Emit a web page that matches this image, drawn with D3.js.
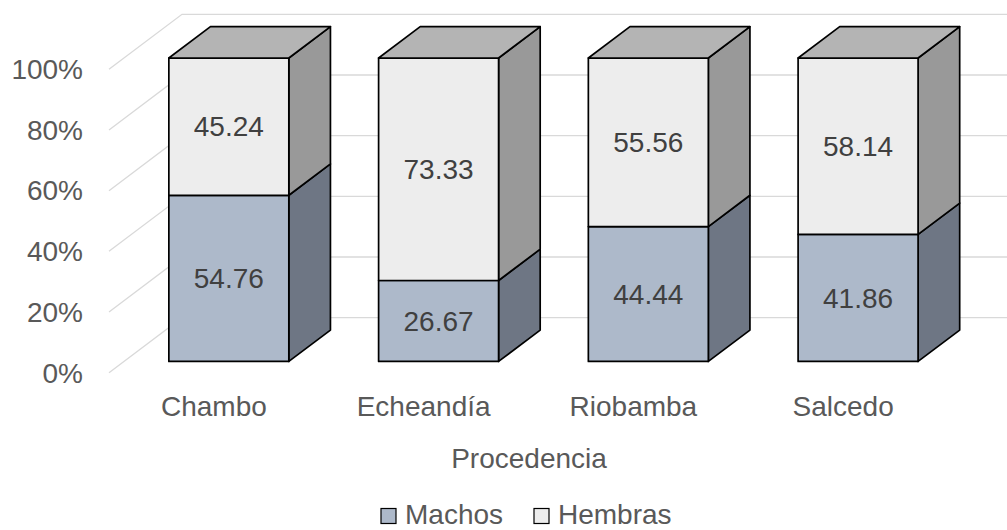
<!DOCTYPE html>
<html>
<head>
<meta charset="utf-8">
<script src="https://cdn.jsdelivr.net/npm/d3@7"></script>
<style>
  html, body { margin: 0; padding: 0; background: #fff; }
  svg { display: block; font-family: "Liberation Sans", Arial, sans-serif; }
</style>
</head>
<body>
<svg id="chart" width="1007" height="530"></svg>
<script>
// Sex share (%) by place of origin
const categories = ["Chambo", "Echeandía", "Riobamba", "Salcedo"];
const machos  = [54.76, 26.67, 44.44, 41.86];
const hembras = [45.24, 73.33, 55.56, 58.14];
const seriesNames = ["Machos", "Hembras"];
const yTicks = [0, 20, 40, 60, 80, 100];
const axisTitle = "Procedencia";

const svg = d3.select("#chart");

// Oblique 3D projection: depth t in [0,1] shifts points right and up
const DX = 73, DY = 55;
const t0 = 0.205, t1 = 0.775;      // front / back depth of the columns
const y = d3.scaleLinear().domain([0, 100]).range([372.7, 69.3]);
const x = d3.scaleBand().domain(categories).range([109, 948])
  .paddingInner(0.428).paddingOuter(0.214);
const P = (px, v, t) => [px + t * DX, y(v) - t * DY];

const colors = {
  Machos:  { front: "#adb9ca", side: "#6e7684", top: "#8a94a3" },
  Hembras: { front: "#ededed", side: "#999999", top: "#b4b4b4" }
};

// Gridlines: left wall diagonals + back wall horizontals
const grid = svg.append("g").attr("stroke", "#d9d9d9").attr("stroke-width", 1.3).attr("fill", "none");
yTicks.forEach(v => {
  const a = P(109, v, 0), b = P(109, v, 1);
  grid.append("polyline").attr("points", [a, b, [1007, b[1]]].map(p => p.join(",")).join(" "));
});

// Y tick labels
svg.append("g").selectAll("text").data(yTicks).join("text")
  .attr("x", 83).attr("y", d => y(d)).attr("dy", "0.35em")
  .attr("text-anchor", "end").attr("font-size", 28).attr("fill", "#595959")
  .text(d => d + "%");

// Columns
const stroke = "#000", sw = 1.7;
const poly = (g, pts, fill) => g.append("polygon")
  .attr("points", pts.map(p => p.join(",")).join(" "))
  .attr("fill", fill).attr("stroke", stroke).attr("stroke-width", sw).attr("stroke-linejoin", "round");

categories.forEach((c, i) => {
  const g = svg.append("g");
  const xl = x(c), xr = x(c) + x.bandwidth();
  const segs = [
    { name: "Machos", lo: 0, hi: machos[i], val: machos[i] },
    { name: "Hembras", lo: machos[i], hi: machos[i] + hembras[i], val: hembras[i] }
  ];
  segs.forEach((s, k) => {
    const col = colors[s.name];
    // side face
    poly(g, [P(xr, s.lo, t0), P(xr, s.lo, t1), P(xr, s.hi, t1), P(xr, s.hi, t0)], col.side);
    // front face
    poly(g, [P(xl, s.lo, t0), P(xr, s.lo, t0), P(xr, s.hi, t0), P(xl, s.hi, t0)], col.front);
    // top face of the stack
    if (k === segs.length - 1) {
      poly(g, [P(xl, s.hi, t0), P(xr, s.hi, t0), P(xr, s.hi, t1), P(xl, s.hi, t1)], col.top);
    }
    const mid = P((xl + xr) / 2, (s.lo + s.hi) / 2, t0);
    g.append("text").attr("x", mid[0]).attr("y", mid[1]).attr("dy", "0.35em")
      .attr("text-anchor", "middle").attr("font-size", 28).attr("fill", "#404040")
      .text(s.val.toFixed(2));
  });
});

// Category labels
svg.append("g").selectAll("text").data(categories).join("text")
  .attr("x", d => x(d) + x.bandwidth() / 2).attr("y", 415.5)
  .attr("text-anchor", "middle").attr("font-size", 28).attr("fill", "#595959")
  .text(d => d);

// Axis title
svg.append("text").attr("x", 529).attr("y", 468)
  .attr("text-anchor", "middle").attr("font-size", 28).attr("fill", "#595959")
  .text(axisTitle);

// Legend
const legX = [381, 534];
const lg = svg.append("g");
seriesNames.forEach((n, i) => {
  lg.append("rect").attr("x", legX[i]).attr("y", 508.5).attr("width", 15).attr("height", 15)
    .attr("fill", colors[n].front).attr("stroke", "#000").attr("stroke-width", 1.2);
  lg.append("text").attr("x", legX[i] + 24).attr("y", 523.5)
    .attr("font-size", 28).attr("fill", "#595959").text(n);
});
</script>
</body>
</html>
